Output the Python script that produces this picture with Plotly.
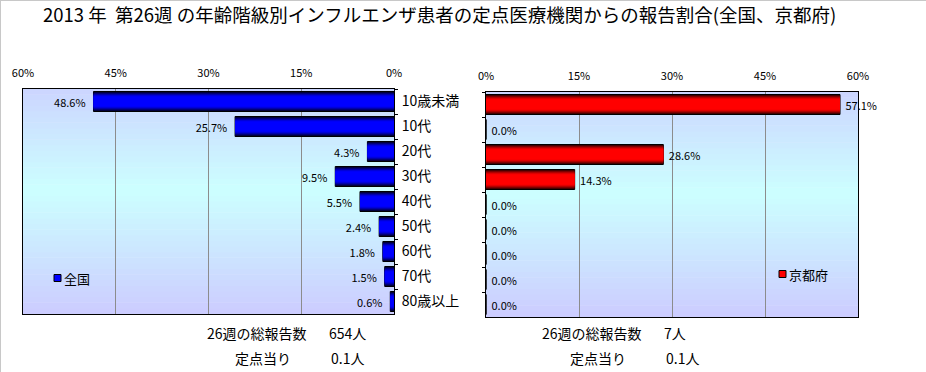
import plotly.graph_objects as go

# ---------------- data ----------------
categories = ["10歳未満", "10代", "20代", "30代", "40代", "50代", "60代", "70代", "80歳以上"]
national_pct = [48.6, 25.7, 4.3, 9.5, 5.5, 2.4, 1.8, 1.5, 0.6]
kyoto_pct = [57.1, 0.0, 28.6, 14.3, 0.0, 0.0, 0.0, 0.0, 0.0]
tick_values = [0, 15, 30, 45, 60]
tick_labels = ["0%", "15%", "30%", "45%", "60%"]
series_names = ["全国", "京都府"]
title_text = "2013 年  第26週 の年齢階級別インフルエンザ患者の定点医療機関からの報告割合(全国、京都府)"
week_label = "26週の総報告数"
per_label = "定点当り"
national_total = "654人"
kyoto_total = "7人"
national_per = "0.1人"
kyoto_per = "0.1人"

# ---------------- styling ----------------
W, H = 926, 372
FONT = "Noto Sans CJK JP, Noto Sans, sans-serif"


def px(x):
    return x / W


def py(y):
    return 1 - y / H


blue_layers = ["#000022", "#00005a", "#000090", "#0000c4", "#0000ec", "#0000ff"]
red_layers = ["#2a0000", "#620000", "#980000", "#c80000", "#f00000", "#ff0000"]
layer_widths = [0.8, 0.72, 0.64, 0.56, 0.48, 0.40]

fig = go.Figure()


def add_bars(values, colors, xa, ya, template):
    for i, (w, c) in enumerate(zip(layer_widths, colors)):
        outer = i == 0
        fig.add_trace(go.Bar(
            y=categories, x=values, orientation="h", width=w,
            marker=dict(color=c, line=dict(color="black", width=1 if outer else 0)),
            text=[template.format(v) for v in values] if outer else None,
            textposition="outside" if outer else "none",
            textfont=dict(size=11, color="black", family=FONT),
            constraintext="none", cliponaxis=False,
            xaxis=xa, yaxis=ya, showlegend=False, hoverinfo="skip",
        ))


add_bars(national_pct, blue_layers, "x", "y", "{:.1f}%  ")
add_bars(kyoto_pct, red_layers, "x2", "y2", " {:.1f}%")

axis_common = dict(
    tickvals=tick_values, ticktext=tick_labels, side="top", showgrid=True,
    gridcolor="#8c8c8c", gridwidth=1, zeroline=False, showline=True, mirror=True,
    linecolor="black", linewidth=1, ticks="", ticklabelstandoff=7, automargin=False,
    tickfont=dict(size=11, family=FONT, color="black"), fixedrange=True,
)
cat_common = dict(
    type="category", autorange="reversed", showgrid=False, showline=True, mirror=True,
    linecolor="black", linewidth=1, ticks="outside", ticklen=3, tickcolor="black",
    tickson="boundaries", fixedrange=True, automargin=False,
)

fig.update_layout(
    width=W, height=H, margin=dict(l=0, r=0, t=0, b=0, autoexpand=False),
    paper_bgcolor="white", plot_bgcolor="rgba(0,0,0,0)",
    barmode="overlay", showlegend=False,
    font=dict(family=FONT, color="black"),
    title=dict(text=title_text, x=px(43), xanchor="left", xref="container",
               y=py(16), yanchor="middle", yref="container", automargin=False,
               font=dict(size=18.5, family=FONT, color="black")),
    xaxis=dict(domain=[px(23), px(394)], range=[60, 0], anchor="y", **axis_common),
    yaxis=dict(domain=[py(314), py(89)], anchor="x", side="right", showticklabels=True,
               tickfont=dict(size=14, family=FONT, color="black"), ticklabelstandoff=4,
               **cat_common),
    xaxis2=dict(domain=[px(486), px(858)], range=[0, 60], anchor="y2", **axis_common),
    yaxis2=dict(domain=[py(317), py(92)], anchor="x2", side="left", showticklabels=False,
                **cat_common),
)

# background gradient (lavender -> light cyan -> lavender)
shapes = []
N = 40
for yref in ["y domain", "y2 domain"]:
    xref = "x domain" if yref == "y domain" else "x2 domain"
    for k in range(N):
        t = 1 - (k + 0.5) / N  # 0 at top
        d = abs(t - 0.45) / 0.55
        g = int(round(255 - 51 * min(1, d)))
        shapes.append(dict(type="rect", xref=xref, yref=yref, x0=0, x1=1,
                           y0=k / N, y1=(k + 1) / N + 0.002, fillcolor=f"rgb(204,{g},255)",
                           line=dict(width=0), layer="below"))

# legend swatches
shapes.append(dict(type="rect", xref="paper", yref="paper", x0=px(54), x1=px(61),
                   y0=py(281.5), y1=py(274.5), fillcolor="#0000ff",
                   line=dict(color="black", width=1)))
shapes.append(dict(type="rect", xref="paper", yref="paper", x0=px(779), x1=px(786),
                   y0=py(277.5), y1=py(270.5), fillcolor="#ff0000",
                   line=dict(color="black", width=1)))
# outer light frame (top / left)
shapes.append(dict(type="line", xref="paper", yref="paper", x0=0, x1=1, y0=1, y1=1,
                   line=dict(color="#c8c8c8", width=2)))
shapes.append(dict(type="line", xref="paper", yref="paper", x0=0, x1=0, y0=0, y1=1,
                   line=dict(color="#c8c8c8", width=2)))
fig.update_layout(shapes=shapes)

ann = []


def note(text, x, y, size=14, anchor="left"):
    ann.append(dict(text=text, x=px(x), y=py(y), xref="paper", yref="paper",
                    xanchor=anchor, yanchor="middle", showarrow=False,
                    font=dict(size=size, family=FONT, color="black")))


note(series_names[0], 62, 278, size=13)
note(series_names[1], 787, 274, size=13)
note(week_label, 309, 333, anchor="right")
note(national_total, 327, 333)
note(per_label, 293, 358, anchor="right")
note(national_per, 329, 358)
note(week_label, 644, 333, anchor="right")
note(kyoto_total, 662, 333)
note(per_label, 628, 358, anchor="right")
note(kyoto_per, 664, 358)
fig.update_layout(annotations=ann)

fig.write_html(
    "out.html",
    config={"displayModeBar": False, "staticPlot": True},
    post_script="document.body.style.margin='0';document.body.style.overflow='hidden';",
)
